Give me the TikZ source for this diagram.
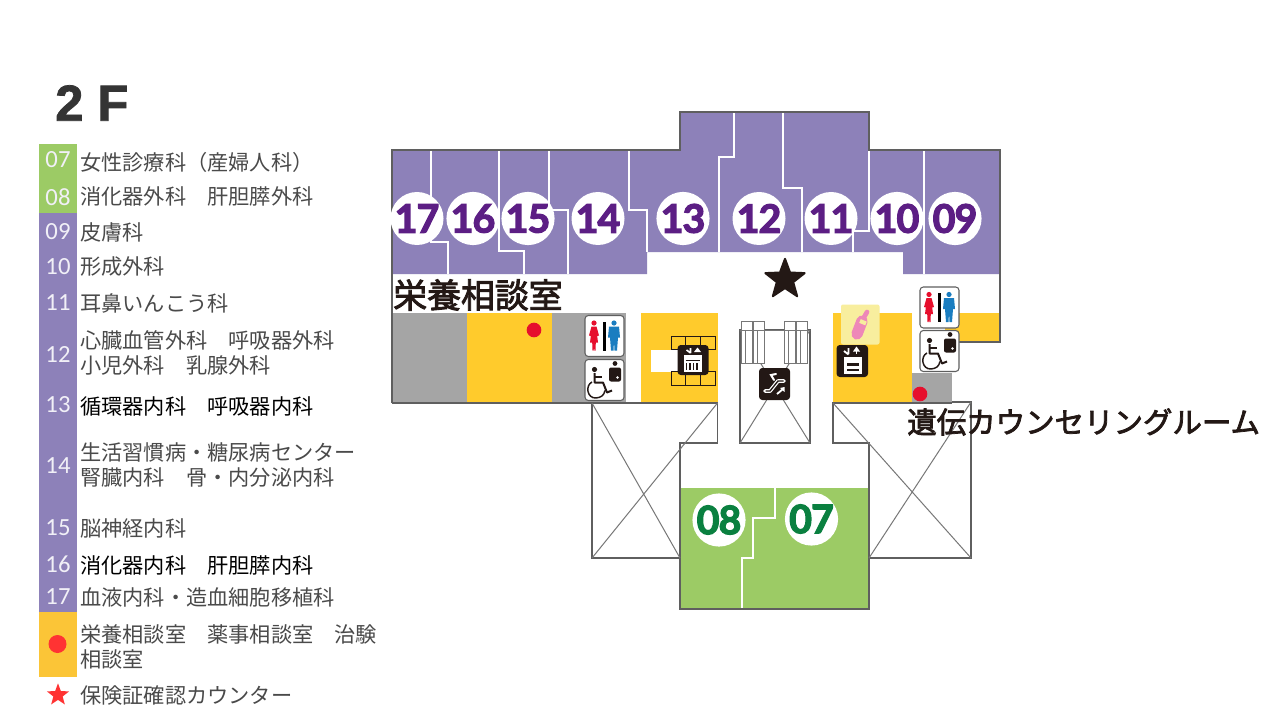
\documentclass[tikz,border=0pt]{standalone}
\usepackage{fontspec}
\usepackage{xcolor}
\setmainfont{Noto Sans CJK JP}
\newfontfamily\zonefont[FakeBold=2.5]{Noto Sans CJK JP}
\newfontfamily\numfont{Carlito}
\newfontfamily\titlefont[FakeBold=1.5]{Liberation Sans Bold}
\newfontfamily\roomfont[LetterSpace=-2.5,FakeBold=3]{Lato Bold}
\definecolor{roompurple}{HTML}{8D81B9}
\definecolor{roomgreen}{HTML}{9CCB65}
\definecolor{roomyellow}{HTML}{FFCB2C}
\definecolor{roomgrey}{HTML}{A5A5A5}
\definecolor{wallgrey}{HTML}{5F5F5F}
\definecolor{numpurple}{HTML}{5C1E84}
\definecolor{numgreen}{HTML}{0A8040}
\definecolor{legendred}{HTML}{FF3333}
\definecolor{legendyellow}{HTML}{FBC537}
\definecolor{inkblack}{HTML}{231815}
\definecolor{softblack}{HTML}{4A4A4A}
\definecolor{manblue}{HTML}{1A7DC0}
\definecolor{womanred}{HTML}{E60F2D}
\definecolor{bottlepink}{HTML}{EE88B8}
\definecolor{paleyellow}{HTML}{F8EE9E}
\usetikzlibrary{shapes.geometric}

\begin{document}
\begin{tikzpicture}[
  x=0.75pt, y=-0.75pt,
  wall/.style={draw=wallgrey, line width=0.9pt},
  thinwall/.style={draw=wallgrey!85, line width=0.75pt},
  roomline/.style={draw=white, line width=0.9pt},
  roomcircle/.style={circle, fill=white, inner sep=0pt, minimum size=39.75pt, font=\roomfont\fontsize{29.5}{29.5}\selectfont},
  purplenum/.style={roomcircle, text=numpurple},
  greennum/.style={roomcircle, text=numgreen},
  legendnum/.style={inner sep=0pt, text=white!88!roompurple, font=\numfont\fontsize{18.5}{18.5}\selectfont},
  deptlabel/.style={anchor=west, inner sep=0pt, align=left, font=\fontsize{15.9}{18.75}\selectfont},
  zonelabel/.style={anchor=west, inner sep=0pt, text=inkblack},
  iconbox/.style={draw=wallgrey, fill=white, line width=0.8pt, rounded corners=2.5pt},
  blackbox/.style={fill=inkblack, rounded corners=2.5pt},
  staricon/.style={star, star points=5, star point ratio=2.4, inner sep=0pt},
  wcicon/.pic={
    \path[iconbox] (0,0) rectangle (39,41);
    \fill[womanred] (9,7.5) circle (2.6);
    \fill[womanred] (6.5,11) -- (11.5,11) -- (14,20) -- (12.2,20.5) -- (13,27) -- (10.8,27) -- (10.5,35) -- (9.3,35) -- (9,27) -- (8.7,35) -- (7.5,35) -- (7.2,27) -- (5,27) -- (5.8,20.5) -- (4,20) -- cycle;
    \fill[black] (17.5,6) rectangle (21,35);
    \fill[manblue] (29,7.5) circle (2.6);
    \fill[manblue] (24,11) -- (34,11) -- (35,22) -- (33,22) -- (32,35) -- (29.5,35) -- (29,25) -- (28.5,35) -- (26,35) -- (25,22) -- (23,22) -- cycle;
  },
  wheelicon/.pic={
    \path[iconbox] (0,0) rectangle (39,41);
    \fill[inkblack] (9.5,10) circle (2.6);
    \draw[inkblack, line width=1.5pt, line join=round] (9.5,13.5) -- (9.5,23) -- (18,23) -- (22,33) -- (27,31);
    \draw[inkblack, line width=1.3pt] (9.5,17.5) -- (17,17.5);
    \draw[inkblack, line width=1.1pt] (7,22.5) .. controls (0,26) and (2,39) .. (11,38.5) .. controls (16,38) and (19,36) .. (20,31);
    \fill[inkblack, rounded corners=1.5pt] (24,8) rectangle (36,22);
    \fill[inkblack] (30,4) circle (2.4);
    \fill[white] (32.5,18) circle (1.4);
  },
  lifticon/.pic={
    \path[blackbox] (0,0) rectangle (31,30);
    \draw[white, line width=1.2pt] (13,3) -- (13,8) (13,8) -- (9,5);
    \fill[white] (20,2.5) -- (16.5,7) -- (23.5,7) -- cycle;
    \fill[white] (6,10) rectangle (24,27);
    \foreach \vx in {9,12.5,16,19.5} \draw[inkblack, line width=0.8pt] (\vx,18) -- (\vx,25);
    \draw[inkblack, line width=0.7pt] (8,15) -- (22,15);
  },
  stairicon/.pic={
    \path[blackbox] (0,0) rectangle (31.5,32);
    \draw[white, line width=1.4pt] (12,3) -- (12,9) (12,9.5) -- (7.5,6);
    \draw[white, line width=1.4pt] (20,8.5) -- (20,3);
    \fill[white] (20,1.5) -- (16.5,6.5) -- (23.5,6.5) -- cycle;
    \fill[white] (7,11.5) rectangle (25,29);
    \fill[inkblack] (10,18) rectangle (22,21);
    \fill[inkblack] (10,23.5) rectangle (22,26);
  },
  escalicon/.pic={
    \path[blackbox] (0,0) rectangle (31,32);
    \draw[white, line width=2.8pt, line join=round, line cap=round] (6,23) -- (11,23) -- (19,13) -- (25,13);
    \draw[inkblack, line width=1pt, line join=round] (6.5,23) -- (11,23) -- (19,13) -- (24.5,13);
    \draw[white, line width=1.5pt, line cap=round] (15,12) -- (12,7) -- (17,6);
    \draw[white, line width=1.4pt] (18,26) -- (24,21);
    \fill[white] (25.5,19) -- (25.5,24) -- (21,20) -- cycle;
  }
]
\path[fill=white, use as bounding box] (0,0) rectangle (1280,720);

% floor colours
\fill[roompurple] (392,150) -- (680,150) -- (680,112) -- (869,112) -- (869,150) -- (1000,150) -- (1000,274) -- (903,274) -- (903,252) -- (647,252) -- (647,274) -- (392,274) -- cycle;
\fill[roomgrey] (392,313) rectangle (467,403);
\fill[roomyellow] (467,313) rectangle (552,403);
\fill[roomgrey] (552,313) rectangle (626,403);
\fill[roomyellow] (641,313) rectangle (717.5,403);
\fill[white] (651,350) rectangle (680,371.5);
\fill[roomyellow] (833,313) rectangle (912,403);
\fill[roomgrey] (912,373) rectangle (952,403);
\fill[roomyellow] (945,313) rectangle (1000,342);
\fill[roomgreen] (680,488) rectangle (869,609);

% room borders
\draw[roomline] (431,150) -- (431,242) -- (448,242) -- (448,274);
\draw[roomline] (499,150) -- (499,251) -- (524,251) -- (524,274);
\draw[roomline] (549,150) -- (549,210) -- (568,210) -- (568,274);
\draw[roomline] (629,150) -- (629,210) -- (647,210) -- (647,252);
\draw[roomline] (734,112) -- (734,157) -- (719,157) -- (719,252);
\draw[roomline] (783,112) -- (783,188) -- (802,188) -- (802,252);
\draw[roomline] (869,150) -- (869,231) -- (853,231) -- (853,252);
\draw[roomline] (924,150) -- (924,274);
\draw[roomline] (775,488) -- (775,518) -- (753,518) -- (753,558) -- (742,558) -- (742,609);

% walls and voids
\draw[wall] (392,403) -- (392,150) -- (680,150) -- (680,112) -- (869,112) -- (869,150) -- (1000,150) -- (1000,342) -- (955,342);
\draw[wall] (592,403) -- (392,403) (592,403) -- (717.5,403) -- (717.5,443) -- (680,443) -- (680,609) -- (869,609) -- (869,443) -- (833,443) -- (833,403) -- (952,403);
\draw[wall] (592,403) -- (592,558) -- (680,558);
\draw[wall] (952,402) -- (971,402) -- (971,558) -- (869,558);
\draw[wall] (740,330) rectangle (810,443);
\draw[thinwall] (592,403) -- (680,558) (717.5,403) -- (592,558);
\draw[thinwall] (833,403) -- (971,558) (971,402) -- (869,558);
\draw[thinwall] (740,330) -- (810,443) (810,330) -- (740,443);

% lift and escalator frames
\foreach \cellx in {671,685.7,700.4} {
  \draw[inkblack, line width=0.7pt] (\cellx,336) rectangle +(14.7,13);
  \draw[inkblack, line width=0.7pt] (\cellx,371) rectangle +(14.7,14);
}
\foreach \gatex in {741,784.5} {
  \draw[thinwall, fill=white] (\gatex,321) rectangle +(11,42);
  \draw[thinwall, fill=white] (\gatex+12,321) rectangle +(11,42);
  \draw[thinwall] (\gatex+4,331) -- (\gatex+4,363) (\gatex+16,331) -- (\gatex+16,363);
}
\draw[thinwall] (740,330) -- (810,330);

% room numbers
\foreach \num/\xpos in {17/417,16/473,15/528,14/598,13/683,12/759,11/831,10/897,09/955}
  \node[purplenum] (room\num) at (\xpos,218.5) {\num};
\node[greennum] (room08) at (719,520) {08};
\node[greennum] (room07) at (811.5,519) {07};

% icons
\node[staricon, fill=inkblack, draw=inkblack, line width=1.5pt, line join=round, minimum size=31pt] (counterstar) at (785,279.5) {};
\node[circle, fill=womanred, inner sep=0pt, minimum size=11pt] (dietdot) at (534,330) {};
\node[circle, fill=womanred, inner sep=0pt, minimum size=11pt] (geneticdot) at (920,394) {};
\pic at (585,315.5) {wcicon};
\pic at (585,359.5) {wheelicon};
\pic at (920,287) {wcicon};
\pic at (920,330.5) {wheelicon};
\pic at (677.5,345) {lifticon};
\pic at (836.5,345) {stairicon};
\pic at (759,368) {escalicon};
\fill[paleyellow, rounded corners=1.5pt] (841,304.5) rectangle (879.5,344.5);
\draw[bottlepink, line width=8.5pt, line cap=round] (857,334) -- (862,321);
\draw[bottlepink, line width=3.5pt, line cap=round] (863,319) -- (867,312);
\draw[paleyellow, line width=3pt] (860,321) -- (866,323.5);

% zone names
\node[zonelabel, font=\zonefont\fontsize{25.4}{25.4}\selectfont] (dietroom) at (393,295) {栄養相談室};
\node[zonelabel, font=\zonefont\fontsize{22.1}{22.1}\selectfont] (geneticroom) at (907,422) {遺伝カウンセリングルーム};

% legend
\fill[roomgreen] (39,144) rectangle (77,213);
\fill[roompurple] (39,213) rectangle (77,612);
\fill[legendyellow] (39,612) rectangle (77,677);
\node[anchor=west, inner sep=0pt, text=softblack!70!black, font=\titlefont\fontsize{38}{38}\selectfont] (floorname) at (55,103) {2 F};
\foreach \num/\ynum/\ytxt/\tcol/\txt in {
  07/160/162/softblack/{女性診療科（産婦人科）},
  08/197/196/softblack/{消化器外科　肝胆膵外科},
  09/232/232/softblack/皮膚科,
  10/267/267/softblack/形成外科,
  11/303/303/softblack/耳鼻いんこう科,
  12/354/353/softblack/{心臓血管外科　呼吸器外科\\小児外科　乳腺外科},
  13/405/406/black/{循環器内科　呼吸器内科},
  14/466/465/softblack/{生活習慣病・糖尿病センター\\腎臓内科　骨・内分泌内科},
  15/528/528/softblack/脳神経内科,
  16/564/565/black/{消化器内科　肝胆膵内科},
  17/597/597/softblack/{血液内科・造血細胞移植科}} {
  \node[legendnum] (key\num) at (58,\ynum) {\num};
  \node[deptlabel, text=\tcol] (dept\num) at (80,\ytxt) {\txt};
}
\node[circle, fill=legendred, inner sep=0pt, minimum size=13.5pt] (keydot) at (57.5,644) {};
\node[deptlabel, text=softblack] (deptdot) at (80,647) {栄養相談室　薬事相談室　治験\\相談室};
\node[staricon, fill=legendred, minimum size=17.5pt] (keystar) at (58,695) {};
\node[deptlabel, text=softblack] (deptstar) at (80,695) {保険証確認カウンター};
\end{tikzpicture}
\end{document}
